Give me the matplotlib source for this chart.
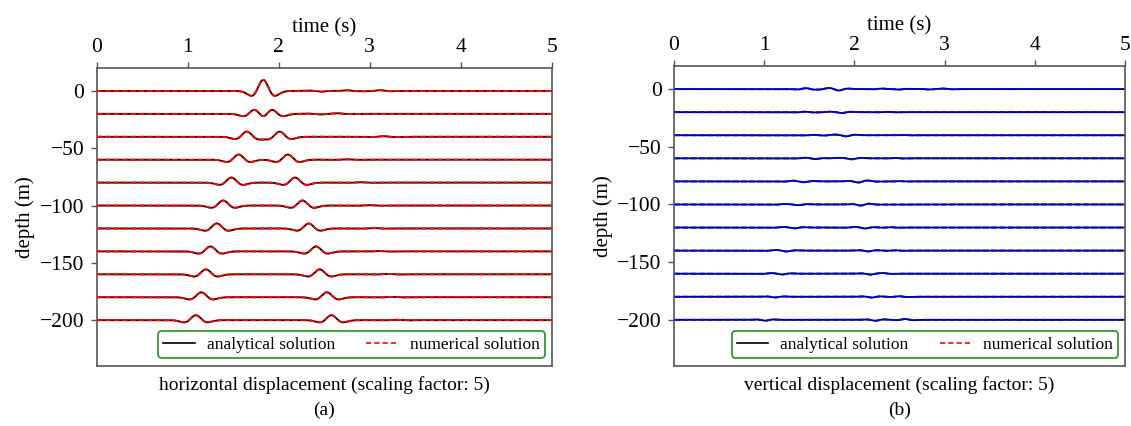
import numpy as np
import matplotlib
matplotlib.use("Agg")
import matplotlib.pyplot as plt
from matplotlib.lines import Line2D

plt.rcParams['font.family'] = ['Liberation Serif', 'DejaVu Serif']

# ---------------- data ----------------
depths = [0, -20, -40, -60, -80, -100, -120, -140, -160, -180, -200]
xticks = [0, 1, 2, 3, 4, 5]
yticks = [0, -50, -100, -150, -200]
ytick_labels = ['0', '\u221250', '\u2212100', '\u2212150', '\u2212200']

# horizontal displacement: upgoing / downgoing pulse arrival times and amplitudes
h_up_time = [1.83, 1.74, 1.65, 1.56, 1.48, 1.39, 1.32, 1.25, 1.20, 1.15, 1.09]
h_down_time = [1.83, 1.92, 2.01, 2.10, 2.18, 2.26, 2.33, 2.41, 2.45, 2.53, 2.58]
h_up_amp = [4.8, 4.6, 4.5, 4.5, 4.4, 4.4, 4.4, 4.3, 4.3, 4.3, 4.3]
h_down_amp = [4.8, 4.6, 4.5, 4.5, 4.4, 4.4, 4.3, 4.3, 4.3, 4.3, 4.3]
# small later ripples: (trace index, time, amplitude)
h_minor = [(0, 2.47, -0.6), (0, 2.75, 0.5), (0, 3.11, 0.6),
           (1, 2.45, -0.4), (1, 2.65, 0.4), (2, 3.15, 0.5),
           (3, 2.75, 0.3), (4, 2.90, 0.3), (5, 3.00, 0.3),
           (6, 3.05, 0.3), (7, 3.10, 0.3), (8, 3.20, 0.3),
           (9, 3.25, 0.3), (10, 3.30, 0.3)]

# vertical displacement pulses per trace: (time, amplitude)
v_pulses = [
    [(1.46, 0.8), (1.71, 0.6), (1.83, -1.0), (2.30, 0.4), (2.49, -0.4), (2.82, -0.3), (2.99, 0.4)],
    [(1.45, 0.4), (1.70, 0.3), (1.86, -0.7), (2.35, 0.3)],
    [(1.55, 0.3), (1.76, 0.3), (1.91, -0.9), (2.55, 0.2)],
    [(1.45, 0.3), (1.57, -0.5), (1.80, 0.3), (1.97, -0.8), (2.45, 0.3)],
    [(1.31, 0.4), (1.44, -0.6), (2.04, -0.8), (2.15, 0.4), (2.50, 0.2)],
    [(1.22, 0.4), (1.38, -0.6), (2.07, -0.8), (2.16, 0.3)],
    [(1.20, 0.4), (1.34, -0.6), (2.00, 0.3), (2.12, -0.7), (2.40, 0.3)],
    [(1.12, 0.4), (1.25, -0.6), (2.15, -0.7), (2.45, 0.3)],
    [(1.07, 0.3), (1.20, -0.6), (2.17, -0.7), (2.32, 0.4)],
    [(1.12, -0.6), (2.19, -0.7), (2.49, 0.5)],
    [(1.01, -0.7), (2.23, -0.8), (2.56, 0.7)],
]

# ---------------- helpers ----------------
t = np.linspace(0, 5, 2001)


def ricker(t0, amp, f):
    a = (np.pi * f * (t - t0)) ** 2
    return amp * (1 - 2 * a) * np.exp(-a)


fig = plt.figure(figsize=(11.31, 4.26), dpi=100)
W, H = 1131, 426
axA = fig.add_axes([96.7 / W, 1 - 366 / H, 455 / W, (366 - 68) / H])
axB = fig.add_axes([674 / W, 1 - 366 / H, 451 / W, (366 - 66) / H])

spine_col = '#555555'
legend_green = '#339933'


def style(ax, label):
    ax.set_xlim(0, 5)
    ax.set_ylim(-240, 20)
    ax.set_xticks(xticks)
    ax.set_yticks(yticks)
    ax.set_yticklabels(ytick_labels)
    ax.xaxis.tick_top()
    ax.xaxis.set_label_position('top')
    ax.set_xlabel('time (s)', fontsize=15, labelpad=4)
    ax.set_ylabel('depth (m)', fontsize=15, labelpad=3)
    ax.tick_params(axis='x', labelsize=15.5, length=4, width=1, color=spine_col, pad=4)
    ax.tick_params(axis='y', labelsize=15.5, length=4, width=1, color=spine_col, pad=5)
    for s in ax.spines.values():
        s.set_color(spine_col)
        s.set_linewidth(1.2)
    hgt = ax.get_position().height * H
    ax.text(0.5, -10 / hgt, label[0], transform=ax.transAxes, ha='center', va='top', fontsize=14)
    ax.text(0.5, -36 / hgt, label[1], transform=ax.transAxes, ha='center', va='top', fontsize=14)
    handles = [Line2D([], [], color='black', lw=1.2, ls='-'),
               Line2D([], [], color='red', lw=1.2, ls=(0, (3, 2)))]
    leg = ax.legend(handles, ['analytical solution', 'numerical solution'],
                    loc='lower right', ncol=2, fontsize=12.5, frameon=True,
                    bbox_to_anchor=(0.985, 0.027), borderaxespad=0,
                    handlelength=1.8, columnspacing=1.8, handletextpad=0.7,
                    borderpad=0.3, fancybox=True)
    leg.get_frame().set_edgecolor(legend_green)
    leg.get_frame().set_linewidth(1.3)
    leg.get_frame().set_alpha(1)


# horizontal
for i, d in enumerate(depths):
    y = ricker(h_up_time[i], h_up_amp[i], 3.0) + ricker(h_down_time[i], h_down_amp[i], 3.0)
    for (k, tm, am) in h_minor:
        if k == i:
            y = y + ricker(tm, am, 3.0)
    axA.plot(t, d + y, color='black', lw=1.3)
    axA.plot(t, d + y, color='red', lw=1.4, ls=(0, (3, 1.3)))

# vertical
for i, d in enumerate(depths):
    y = np.zeros_like(t)
    for (tm, am) in v_pulses[i]:
        y = y + ricker(tm, am, 4.0)
    axB.plot(t, d + y, color='black', lw=1.3)
    axB.plot(t, d + y, color='blue', lw=1.4, ls=(0, (3, 1.3)))

style(axA, ('horizontal displacement (scaling factor: 5)', '(a)'))
style(axB, ('vertical displacement (scaling factor: 5)', '(b)'))

fig.savefig('out.png', dpi=100)
